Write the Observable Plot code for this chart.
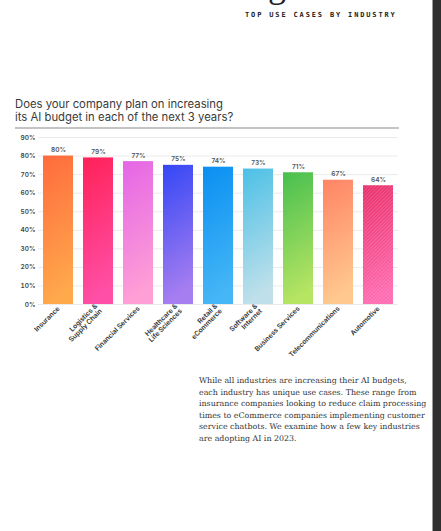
<!DOCTYPE html>
<html><head><meta charset="utf-8">
<script src="https://cdn.jsdelivr.net/npm/d3@7"></script>
<script src="https://cdn.jsdelivr.net/npm/@observablehq/plot@0.6"></script>
<style>
html,body{margin:0;padding:0;background:#fff;}
#page{position:relative;width:441px;height:531px;overflow:hidden;background:#fff;}
#frag{position:absolute;left:268px;top:-33px;font:36px "Liberation Serif",serif;color:#222;line-height:36px;}
#kicker{position:absolute;left:245px;top:11px;font:bold 7px "DejaVu Sans Mono",monospace;letter-spacing:1.85px;line-height:8px;color:#222;white-space:nowrap;}
#title{position:absolute;left:15px;top:98px;font:11.3px Inter,"Noto Sans",sans-serif;line-height:13px;color:#3a3a3a;white-space:nowrap;}
#rule{position:absolute;left:15px;top:127px;width:384px;height:2px;background:#c4c4c4;}
#chart{position:absolute;left:0;top:130px;}
#body{position:absolute;left:199px;top:375px;font:7.9px "DejaVu Serif",serif;line-height:11.6px;color:#333;white-space:nowrap;}
#band{position:absolute;left:432px;top:0;width:9px;height:531px;background:#2f2f2f;border-left:1px solid #9a9a9a;}
</style></head><body>
<div id="page">
 <div id="frag">g</div>
 <div id="kicker">TOP USE CASES BY INDUSTRY</div>
 <div id="title">Does your company plan on increasing<br>its AI budget in each of the next 3 years?</div>
 <div id="rule"></div>
 <div id="chart"></div>
 <div id="body">While all industries are increasing their AI budgets,<br>each industry has unique use cases. These range from<br>insurance companies looking to reduce claim processing<br>times to eCommerce companies implementing customer<br>service chatbots. We examine how a few key industries<br>are adopting AI in 2023.</div>
 <div id="band"></div>
</div>
<script>
const industries = ["Insurance","Logistics &\nSupply Chain","Financial Services","Healthcare &\nLife Sciences","Retail &\neCommerce","Software &\nInternet","Business Services","Telecommunications","Automotive"];
const shares = [80,79,77,75,74,73,71,67,64];
const yTicks = [0,10,20,30,40,50,60,70,80,90];
const topColors = ["#ff6b3d","#ff2158","#e466e6","#3347f5","#0a8ff2","#4cc0e6","#47bf4f","#ff8466","#e8306a"];
const bottomColors = ["#ffa84c","#ff4fa6","#ff9fd6","#a77ef0","#45b6f6","#bfe0ea","#b6e463","#ffc88e","#ff6bb0"];

const data = industries.map((k,i)=>({industry:k, share:shares[i]}));

const svg = Plot.plot({
  width:441, height:235, marginTop:7, marginBottom:61, marginLeft:38, marginRight:43,
  style:{fontFamily:"Inter, 'Noto Sans', sans-serif", fontSize:"6.5px", fontWeight:600, color:"#444", background:"transparent"},
  x:{domain:industries, paddingInner:0.25, paddingOuter:0.125, label:null},
  y:{domain:[0,90], label:null},
  marks:[
    Plot.gridY(yTicks,{stroke:"#ebebeb", strokeOpacity:1}),
    Plot.axisY(yTicks,{tickSize:0, tickPadding:3, tickFormat:d=>d+"%", label:null}),
    Plot.axisX({tickSize:0, tickPadding:3, tickRotate:-45, label:null, fill:"#333", fontSize:6.8}),
    Plot.barY(data,{x:"industry", y:"share", fill:"#ccc"}),
    Plot.text(data,{x:"industry", y:"share", text:d=>d.share+"%", dy:-6, fill:"#555"})
  ]
});

const s = d3.select(svg);
const defs = s.insert("defs", ":first-child");
industries.forEach((_,i)=>{
  const g = defs.append("linearGradient").attr("id","bg"+i).attr("x1",0).attr("y1",0).attr("x2",0.15).attr("y2",1);
  g.append("stop").attr("offset","0%").attr("stop-color",topColors[i]);
  g.append("stop").attr("offset","100%").attr("stop-color",bottomColors[i]);
});
const pat = defs.append("pattern").attr("id","hatch").attr("patternUnits","userSpaceOnUse").attr("width",2.5).attr("height",2.5).attr("patternTransform","rotate(45)");
pat.append("line").attr("x1",0).attr("y1",0).attr("x2",0).attr("y2",2.5).attr("stroke","#fff").attr("stroke-opacity",0.3).attr("stroke-width",0.9);
const rects = s.selectAll('g[aria-label="bar"] rect');
rects.attr("fill",(d,i)=>`url(#bg${i})`);
const last = rects.nodes()[rects.size()-1];
const cl = last.cloneNode(true);
cl.setAttribute("fill","url(#hatch)");
last.parentNode.appendChild(cl);

document.getElementById("chart").appendChild(svg);
</script>
</body></html>
